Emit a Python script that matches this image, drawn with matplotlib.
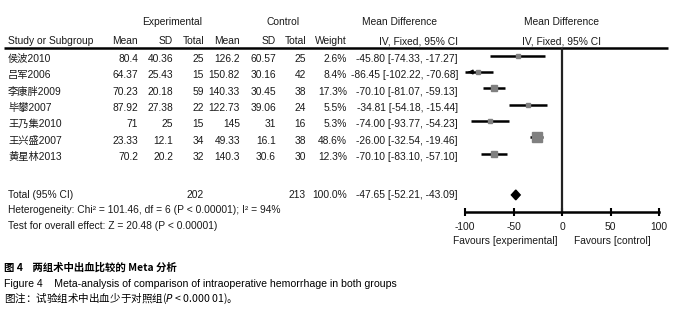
import matplotlib.pyplot as plt
import numpy as np

plt.rcParams['font.family'] = ['Liberation Sans', 'Noto Sans CJK SC', 'DejaVu Sans']

studies = ["侯波2010", "吕军2006", "李康胖2009", "毕攀2007", "王乃集2010", "王兴盛2007", "黄星林2013"]
exp_mean = ["80.4", "64.37", "70.23", "87.92", "71", "23.33", "70.2"]
exp_sd = ["40.36", "25.43", "20.18", "27.38", "25", "12.1", "20.2"]
exp_n = [25, 15, 59, 22, 15, 34, 32]
ctl_mean = ["126.2", "150.82", "140.33", "122.73", "145", "49.33", "140.3"]
ctl_sd = ["60.57", "30.16", "30.45", "39.06", "31", "16.1", "30.6"]
ctl_n = [25, 42, 38, 24, 16, 38, 30]
weight = [2.6, 8.4, 17.3, 5.5, 5.3, 48.6, 12.3]
md = [-45.80, -86.45, -70.10, -34.81, -74.00, -26.00, -70.10]
lo = [-74.33, -102.22, -81.07, -54.18, -93.77, -32.54, -83.10]
hi = [-17.27, -70.68, -59.13, -15.44, -54.23, -19.46, -57.10]
total_md, total_lo, total_hi = -47.65, -52.21, -43.09
ticks = [-100, -50, 0, 50, 100]

W, H = 686, 321
fig = plt.figure(figsize=(W / 100, H / 100), dpi=100)
bg = fig.add_axes([0, 0, 1, 1])
bg.set_xlim(0, W)
bg.set_ylim(H, 0)
bg.axis("off")

fs = 7.4
tc = "#1a1a1a"
row0, step = 59, 16.3
total_row = 8.34

def ty(r):
    return row0 + step * r

def put(x, r, s, ha="right", **kw):
    bg.text(x, ty(r), s, ha=ha, va="center", fontsize=fs, color=tc, **kw)

# headers
bg.text(172, 22, "Experimental", ha="center", va="center", fontsize=fs, color=tc)
bg.text(283, 22, "Control", ha="center", va="center", fontsize=fs, color=tc)
bg.text(400, 22, "Mean Difference", ha="center", va="center", fontsize=fs, color=tc)
bg.text(561, 22, "Mean Difference", ha="center", va="center", fontsize=fs, color=tc)
hy = 41
bg.text(8, hy, "Study or Subgroup", ha="left", va="center", fontsize=fs, color=tc)
cols = [(138, "Mean"), (173, "SD"), (204, "Total"), (240, "Mean"), (276, "SD"), (306, "Total"), (347, "Weight"), (458, "IV, Fixed, 95% CI")]
for x, s in cols:
    bg.text(x, hy, s, ha="right", va="center", fontsize=fs, color=tc)
bg.text(561, hy, "IV, Fixed, 95% CI", ha="center", va="center", fontsize=fs, color=tc)
bg.plot([4, 668], [47.5, 47.5], color="black", lw=1.8, solid_capstyle="butt")

for i in range(len(studies)):
    put(8, i, studies[i], ha="left")
    put(138, i, exp_mean[i])
    put(173, i, exp_sd[i])
    put(204, i, str(exp_n[i]))
    put(240, i, ctl_mean[i])
    put(276, i, ctl_sd[i])
    put(306, i, str(ctl_n[i]))
    put(347, i, f"{weight[i]:.1f}%")
    put(458, i, f"{md[i]:.2f} [{lo[i]:.2f}, {hi[i]:.2f}]")

put(8, total_row, "Total (95% CI)", ha="left")
put(204, total_row, str(sum(exp_n)))
put(306, total_row, str(sum(ctl_n)))
put(347, total_row, "100.0%")
put(458, total_row, f"{total_md:.2f} [{total_lo:.2f}, {total_hi:.2f}]")
put(8, total_row + 0.95, "Heterogeneity: Chi² = 101.46, df = 6 (P < 0.00001); I² = 94%", ha="left")
put(8, total_row + 1.9, "Test for overall effect: Z = 20.48 (P < 0.00001)", ha="left")

# forest panel
x0, x1 = 465, 659
y_top, y_bot = 47.5, 212
ax = fig.add_axes([x0 / W, 1 - y_bot / H, (x1 - x0) / W, (y_bot - y_top) / H])
ax.set_xlim(-100, 100)
ax.set_ylim((y_bot - row0) / step, (y_top - row0) / step)
ax.patch.set_alpha(0)
for s in ["top", "right", "left"]:
    ax.spines[s].set_visible(False)
ax.spines["bottom"].set_linewidth(1.8)
ax.set_yticks([])
ax.set_xticks(ticks)
ax.set_xticklabels([str(t) for t in ticks], fontsize=fs, color=tc)
ax.tick_params(axis="x", direction="inout", length=6, width=1.5, pad=4)
ax.axvline(0, color="#222222", lw=1.6)

for i in range(len(studies)):
    l = max(lo[i], -100)
    h = min(hi[i], 100)
    ax.plot([l, h], [i - 0.2, i - 0.2], color="black", lw=1.8, solid_capstyle="butt")
    if lo[i] < -100:
        ax.annotate("", xy=(-100, i - 0.2), xytext=(l + 8, i - 0.2),
                    arrowprops=dict(arrowstyle="-|>", color="black", lw=1.2, mutation_scale=6))
    ax.plot(md[i], i - 0.2, marker="s", color="#808080", ms=1.5 + 0.72 * np.sqrt(weight[i]), mec="#808080")

ax.fill([total_lo, total_md, total_hi, total_md],
        [total_row, total_row - 0.3, total_row, total_row + 0.3], color="black")

bg.text(505, 241, "Favours [experimental]", ha="center", va="center", fontsize=fs, color=tc)
bg.text(612, 241, "Favours [control]", ha="center", va="center", fontsize=fs, color=tc)

# caption
cap = ['Noto Sans CJK SC', 'Liberation Sans']
bg.text(4, 268, "图 4    两组术中出血比较的 Meta 分析", ha="left", va="center", fontsize=7.5,
        fontweight="bold", family=cap, color="black")
bg.text(4, 284, "Figure 4    Meta-analysis of comparison of intraoperative hemorrhage in both groups",
        ha="left", va="center", fontsize=7.6, family=['Liberation Sans', 'Noto Sans CJK SC'], color="black")
bg.text(4, 299, "图注：试验组术中出血少于对照组($\\it{P}$ < 0.000 01)。", ha="left", va="center",
        fontsize=7.6, family=cap, color="black")

fig.savefig("out.png", dpi=100)
